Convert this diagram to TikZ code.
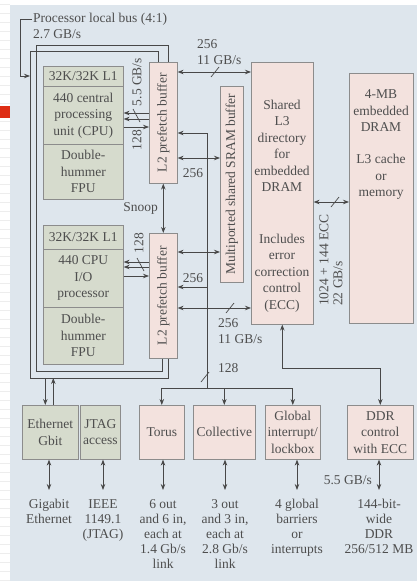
\documentclass[tikz,border=0pt]{standalone}
\usepackage{fontspec}
\setmainfont{Liberation Serif}
\usetikzlibrary{arrows.meta}

\definecolor{panel}{RGB}{222,230,237}
\definecolor{chipgray}{RGB}{214,219,205}
\definecolor{chippink}{RGB}{243,226,222}
\definecolor{edge}{RGB}{140,140,140}
\definecolor{wirec}{RGB}{72,72,72}
\definecolor{ink}{RGB}{78,78,78}
\definecolor{marker}{RGB}{222,45,20}

\tikzset{
  box/.style={draw=edge,line width=0.6pt,anchor=north west,inner sep=0pt,
    align=center,text=ink,font=\fontsize{13.5}{16.5}\selectfont},
  graybox/.style={box,fill=chipgray},
  pinkbox/.style={box,fill=chippink},
  lab/.style={text=ink,inner sep=1pt,align=center,font=\fontsize{13.5}{16.5}\selectfont},
  foot/.style={lab,anchor=north,font=\fontsize{13.5}{15}\selectfont},
  wire/.style={draw=wirec,line width=0.8pt},
  slash/.style={draw=wirec,line width=0.7pt},
}

\begin{document}
\begin{tikzpicture}[x=1pt,y=-1pt,>={Stealth[length=6pt,width=4.5pt]}]
  \useasboundingbox (0,0) rectangle (417,581);
  \fill[white] (0,0) rectangle (417,581);
  \foreach \y in {4,13,...,580} \draw[black!7,line width=0.5pt] (0,\y) -- (10,\y);
  \fill[panel] (10,5) rectangle (417,581);
  \fill[marker] (0,106) rectangle (10,118);

  % bus label
  \node[lab,anchor=west] (plb) at (32,19) {Processor local bus (4:1)};
  \node[lab,anchor=west] (plbrate) at (32,34) {2.7 GB/s};

  % processor 0
  \node[graybox,minimum width=80pt,minimum height=20pt] (l1a) at (43,66) {32K/32K L1};
  \node[graybox,minimum width=80pt,minimum height=58pt] (cpua) at (43,86) {440 central\\processing\\unit (CPU)};
  \node[graybox,minimum width=80pt,minimum height=55pt] (fpua) at (43,144) {Double-\\hummer\\FPU};
  % processor 1
  \node[graybox,minimum width=80pt,minimum height=24pt] (l1b) at (43,225) {32K/32K L1};
  \node[graybox,minimum width=80pt,minimum height=58pt] (cpub) at (43,249) {440 CPU\\I/O\\processor};
  \node[graybox,minimum width=80pt,minimum height=57pt] (fpub) at (43,307) {Double-\\hummer\\FPU};

  % L2, SRAM, L3, DRAM
  \node[pinkbox,minimum width=28pt,minimum height=121pt] (l2a) at (149,62) {};
  \node[lab,rotate=90] (l2atxt) at (l2a.center) {L2 prefetch buffer};
  \node[pinkbox,minimum width=28pt,minimum height=125pt] (l2b) at (149,233) {};
  \node[lab,rotate=90] (l2btxt) at (l2b.center) {L2 prefetch buffer};
  \node[pinkbox,minimum width=23pt,minimum height=196pt] (sram) at (220,86) {};
  \node[lab,rotate=90] (sramtxt) at (sram.center) {Multiported shared SRAM buffer};
  \node[pinkbox,minimum width=62pt,minimum height=262pt] (l3) at (251,62) {};
  \node[lab] (l3up) at (282,146) {Shared\\L3\\directory\\for\\embedded\\DRAM};
  \node[lab] (l3low) at (282,273) {Includes\\error\\correction\\control\\(ECC)};
  \node[pinkbox,minimum width=64pt,minimum height=250pt] (dram) at (349,73) {};
  \node[lab] (dramup) at (381,111) {4-MB\\embedded\\DRAM};
  \node[lab] (dramlow) at (381,177) {L3 cache\\or\\memory};

  % I/O blocks
  \node[graybox,minimum width=56pt,minimum height=54pt] (eth) at (22,405) {Ethernet\\Gbit};
  \node[graybox,minimum width=40pt,minimum height=54pt] (jtag) at (80,405) {JTAG\\access};
  \node[pinkbox,minimum width=45pt,minimum height=54pt] (torus) at (139,405) {Torus};
  \node[pinkbox,minimum width=62pt,minimum height=54pt] (coll) at (193,405) {Collective};
  \node[pinkbox,minimum width=55pt,minimum height=54pt] (gint) at (265,405) {Global\\interrupt/\\lockbox};
  \node[pinkbox,minimum width=66pt,minimum height=54pt] (ddr) at (347,405) {DDR\\control\\with ECC};

  \node[foot] (gige) at (49,498) {Gigabit\\Ethernet};
  \node[foot] (ieee) at (103,498) {IEEE\\1149.1\\(JTAG)};
  \node[foot] (toruslink) at (163,498) {6 out\\and 6 in,\\each at\\1.4 Gb/s\\link};
  \node[foot] (colllink) at (225,498) {3 out\\and 3 in,\\each at\\2.8 Gb/s\\link};
  \node[foot] (gintlink) at (297,498) {4 global\\barriers\\or\\interrupts};
  \node[foot] (ddrlink) at (379,498) {144-bit-\\wide\\DDR\\256/512 MB};

  % local bus frames
  \draw[wire,->] (plb.west) -- ++(-12,0) |- (30,76);
  \draw[wire] ([xshift=-5pt]l2a.north) |- (30,51) -- (30,378) -| ([xshift=5pt]l2b.south);
  \draw[wire] ([xshift=5pt]l2a.north) |- (36,45) -- (36,371) -| ([xshift=-1pt]l2b.south);
  \draw[wire,<-] ([xshift=-5pt]eth.north) -- ++(0,-27);
  \draw[wire,->] ([xshift=3pt]eth.north) -- ++(0,-27);

  % CPU to L2
  \draw[wire,->] (l2a.west |- 0,113) -- (cpua.east |- 0,113);
  \draw[wire,->] (l2a.west |- 0,119) -- (cpua.east |- 0,119);
  \draw[wire,->] (cpua.east |- 0,127) -- (l2a.west |- 0,127);
  \draw[slash] (133,109) -- (140,122);
  \node[lab,rotate=90] (bwa) at (137,82) {5.5 GB/s};
  \node[lab,rotate=90] (widtha) at (137,140) {128};
  \draw[wire,->] (l2b.west |- 0,262) -- (cpub.east |- 0,262);
  \draw[wire,->] (l2b.west |- 0,267) -- (cpub.east |- 0,267);
  \draw[wire,->] (cpub.east |- 0,276) -- (l2b.west |- 0,276);
  \draw[slash] (137,258) -- (144,271);
  \node[lab,rotate=90] (widthb) at (139,243) {128};

  \draw[wire,<->] (l2a.south) -- node[lab,left=4pt] (snoop) {Snoop} (l2b.north);

  % L2 to SRAM and L3
  \draw[wire,<->] (l2a.east |- 0,72) -- (l3.west |- 0,72);
  \draw[slash] (211,77) -- (219,67);
  \node[lab,anchor=west,align=left] (bwup) at (196,52) {256\\11 GB/s};
  \draw[wire,<->] (l2a.east |- 0,158) -- (sram.west |- 0,158);
  \node[lab] (wup) at (193,173) {256};
  \draw[wire,<->] (l2b.east |- 0,252) -- (sram.west |- 0,252);
  \node[lab] (wdown) at (193,278) {256};
  \draw[wire,<->] (l2b.east |- 0,308) -- (l3.west |- 0,308);
  \draw[slash] (226,313) -- (234,303);
  \node[lab,anchor=west,align=left] (bwdown) at (217,331) {256\\11 GB/s};

  % I/O bus
  \coordinate (busjoin) at (207,388);
  \draw[wire,->] (busjoin) |- (l2a.east |- 0,133);
  \draw[wire,->] (busjoin |- 0,287) -- (l2b.east |- 0,287);
  \draw[wire] (torus.north |- busjoin) -- (gint.north |- busjoin);
  \foreach \b in {torus,coll,gint}
    \draw[wire,->] (\b.north |- busjoin) -- (\b.north);
  \draw[slash] (201,382) -- (209,372);
  \node[lab,anchor=west] (wio) at (217,368) {128};

  % L3 to DRAM and DDR
  \draw[wire,<->] (l3.east |- 0,202) -- (dram.west |- 0,202);
  \draw[slash] (331,207) -- (339,197);
  \node[lab,rotate=90,anchor=west] (wdram) at (324,307) {1024 + 144 ECC};
  \node[lab,rotate=90,anchor=west] (bwdram) at (338,307) {22 GB/s};
  \draw[wire,<->] (l3.south) |- (ddr.north |- 0,368) -- (ddr.north);

  % off-chip links
  \draw[wire,<->] (eth.south -| gige.north) -- ([yshift=8pt]gige.north);
  \draw[wire,<->] (jtag.south -| ieee.north) -- ([yshift=8pt]ieee.north);
  \draw[wire,<->] (torus.south -| toruslink.north) -- ([yshift=8pt]toruslink.north);
  \draw[wire,<->] (coll.south -| colllink.north) -- ([yshift=8pt]colllink.north);
  \draw[wire,<->] (gint.south -| gintlink.north) -- ([yshift=8pt]gintlink.north);
  \draw[wire,<->] (ddr.south -| ddrlink.north) -- ([yshift=8pt]ddrlink.north);
  \node[lab,anchor=east] (bwddr) at (373,480) {5.5 GB/s};
\end{tikzpicture}
\end{document}
